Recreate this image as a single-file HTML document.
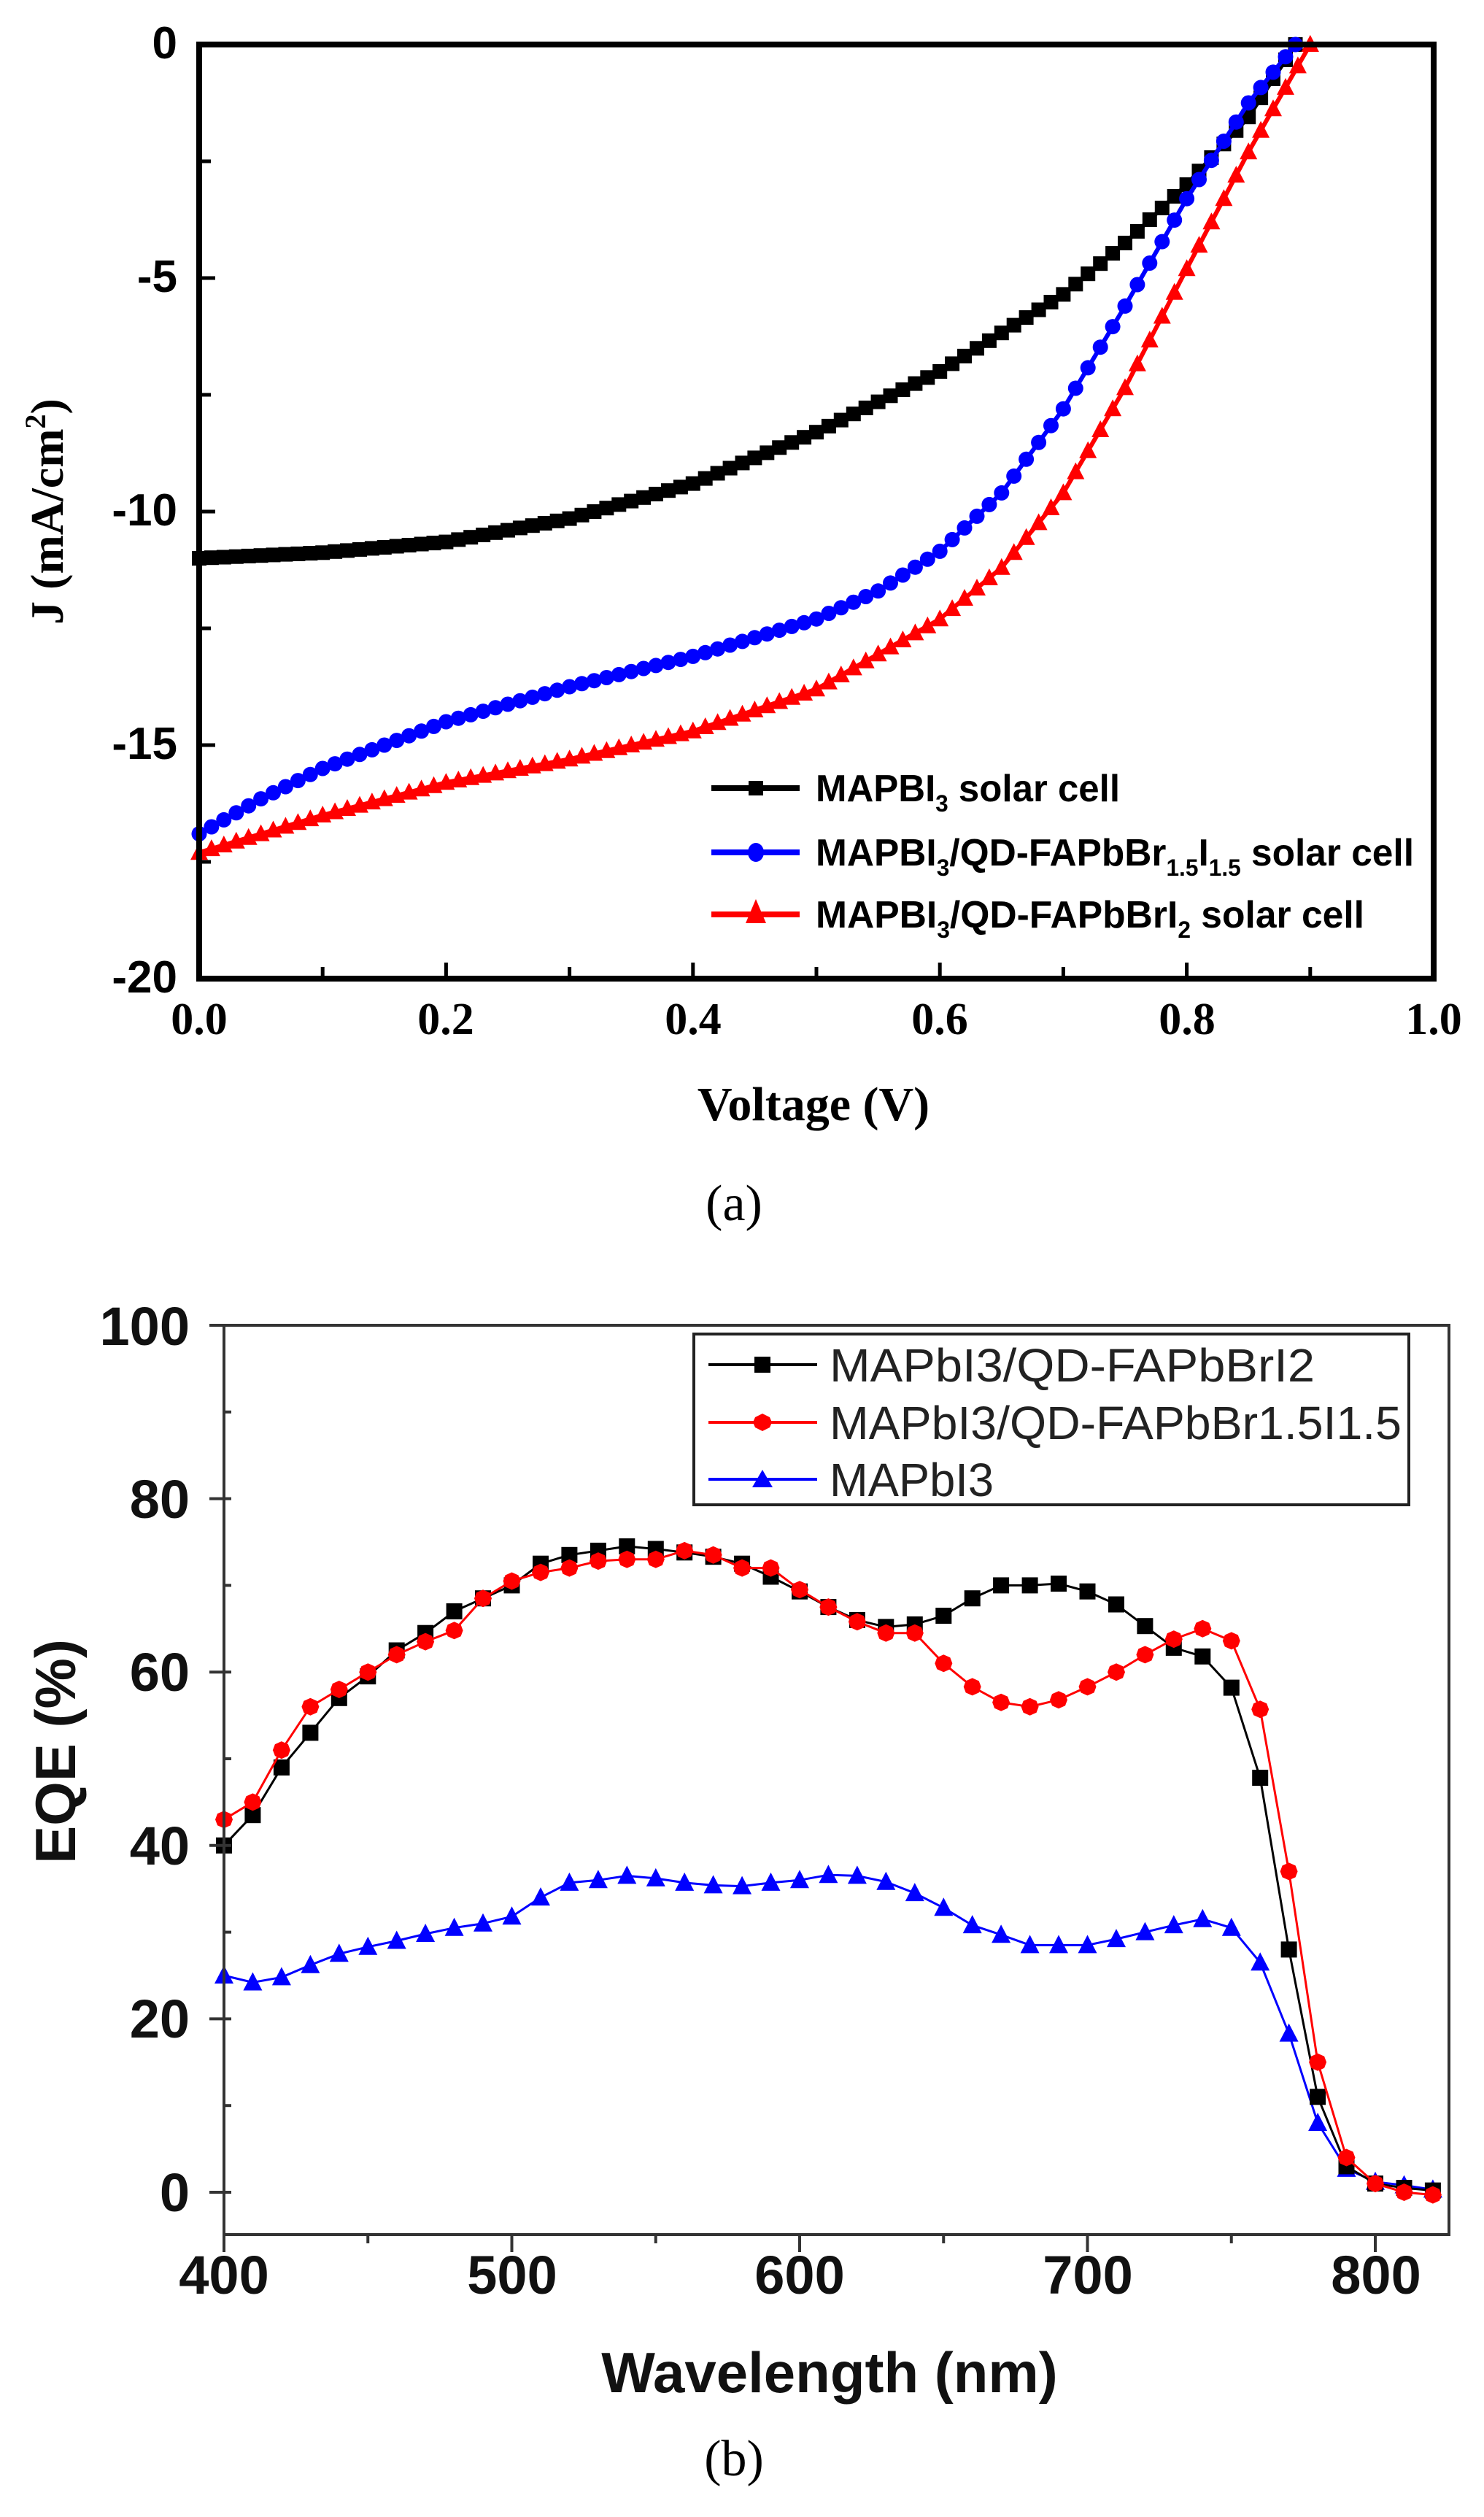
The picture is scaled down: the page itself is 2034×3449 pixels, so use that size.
<!DOCTYPE html>
<html><head><meta charset="utf-8"><style>
html,body{margin:0;padding:0;background:#fff}
svg{display:block}
</style></head><body>
<svg id="s" width="2034" height="3449" viewBox="0 0 2034 3449" xmlns="http://www.w3.org/2000/svg">
<defs>
<marker id="mSq" markerUnits="userSpaceOnUse" markerWidth="24" markerHeight="24" refX="12" refY="12"><rect x="2" y="2" width="20" height="20" fill="#000"/></marker>
<marker id="mCi" markerUnits="userSpaceOnUse" markerWidth="24" markerHeight="24" refX="12" refY="12"><circle cx="12" cy="12" r="10.5" fill="#0000ff"/></marker>
<marker id="mTr" markerUnits="userSpaceOnUse" markerWidth="26" markerHeight="26" refX="13" refY="14"><polygon points="13,1 25,24 1,24" fill="#ff0000"/></marker>
<marker id="bSq" markerUnits="userSpaceOnUse" markerWidth="26" markerHeight="26" refX="13" refY="13"><rect x="2" y="2" width="22" height="22" fill="#000"/></marker>
<marker id="bCi" markerUnits="userSpaceOnUse" markerWidth="26" markerHeight="26" refX="13" refY="13"><polygon points="13,1 22,5 25,13 22,21 13,25 4,21 1,13 4,5" fill="#ff0000"/></marker>
<marker id="bTr" markerUnits="userSpaceOnUse" markerWidth="30" markerHeight="30" refX="15" refY="16"><polygon points="15,2 28,27 2,27" fill="#0000ff"/></marker>
</defs>
<rect width="2034" height="3449" fill="#fff"/>

<!-- ===== Plot (a) ===== -->
<g id="ga"></g>
<rect x="273" y="61" width="1692" height="1280" fill="none" stroke="#000" stroke-width="8"/>
<g id="ta" stroke="#000" stroke-width="5"></g>
<g font-family="'Liberation Sans',Arial,sans-serif" font-weight="bold" font-size="62" text-anchor="end" fill="#000">
<text x="243" y="80">0</text>
<text x="243" y="400">-5</text>
<text x="243" y="720">-10</text>
<text x="243" y="1040">-15</text>
<text x="243" y="1360">-20</text>
</g>
<g font-family="'Liberation Serif','Times New Roman',serif" font-weight="bold" font-size="62" text-anchor="middle" fill="#000">
<text x="273" y="1417">0.0</text>
<text x="611" y="1417">0.2</text>
<text x="950" y="1417">0.4</text>
<text x="1288" y="1417">0.6</text>
<text x="1627" y="1417">0.8</text>
<text x="1965" y="1417">1.0</text>
<text x="1115" y="1535" font-size="66">Voltage (V)</text>
<text transform="translate(86,701) rotate(-90)" font-size="64">J (mA/cm<tspan dy="-24" font-size="40">2</tspan><tspan dy="24">)</tspan></text>
</g>
<!-- legend a -->
<g stroke-width="8" fill="none">
<line x1="975" y1="1080" x2="1096" y2="1080" stroke="#000"/>
<line x1="975" y1="1168" x2="1096" y2="1168" stroke="#0000ff"/>
<line x1="975" y1="1253" x2="1096" y2="1253" stroke="#ff0000"/>
</g>
<rect x="1026" y="1070" width="20" height="20" fill="#000"/>
<ellipse cx="1036" cy="1168" rx="11" ry="13" fill="#0000ff"/>
<polygon points="1036,1232 1050,1265 1022,1265" fill="#ff0000"/>
<g font-family="'Liberation Sans',Arial,sans-serif" font-weight="bold" font-size="52" fill="#000">
<text x="1118" y="1098" textLength="417" lengthAdjust="spacingAndGlyphs">MAPBI<tspan font-size="32" dy="14">3</tspan><tspan dy="-14"> solar cell</tspan></text>
<text x="1118" y="1186" textLength="820" lengthAdjust="spacingAndGlyphs">MAPBI<tspan font-size="32" dy="14">3</tspan><tspan dy="-14">/QD-FAPbBr</tspan><tspan font-size="32" dy="14">1.5</tspan><tspan dy="-14">I</tspan><tspan font-size="32" dy="14">1.5</tspan><tspan dy="-14"> solar cell</tspan></text>
<text x="1118" y="1271" textLength="752" lengthAdjust="spacingAndGlyphs">MAPBI<tspan font-size="32" dy="14">3</tspan><tspan dy="-14">/QD-FAPbBrI</tspan><tspan font-size="32" dy="14">2</tspan><tspan dy="-14"> solar cell</tspan></text>
</g>
<text x="1006" y="1672" font-family="'Liberation Serif','Times New Roman',serif" font-size="70" text-anchor="middle" fill="#000">(a)</text>

<!-- ===== Plot (b) ===== -->
<g id="gb"></g>
<rect x="307" y="1816" width="1679" height="1246" fill="none" stroke="#333" stroke-width="4"/>
<g id="tb" stroke="#333" stroke-width="4"></g>
<g font-family="'Liberation Sans',Arial,sans-serif" font-weight="bold" font-size="74" text-anchor="end" fill="#111">
<text x="260" y="3030">0</text>
<text x="260" y="2792">20</text>
<text x="260" y="2555">40</text>
<text x="260" y="2317">60</text>
<text x="260" y="2080">80</text>
<text x="260" y="1843">100</text>
</g>
<g font-family="'Liberation Sans',Arial,sans-serif" font-weight="bold" font-size="74" text-anchor="middle" fill="#111">
<text x="307" y="3143">400</text>
<text x="702" y="3143">500</text>
<text x="1096" y="3143">600</text>
<text x="1491" y="3143">700</text>
<text x="1886" y="3143">800</text>
<text x="1137" y="3278" font-size="78">Wavelength (nm)</text>
<text transform="translate(103,2400) rotate(-90)" font-size="78">EQE (%)</text>
</g>
<rect x="951" y="1828" width="980" height="234" fill="none" stroke="#222" stroke-width="4"/>
<g stroke-width="4">
<line x1="971" y1="1870" x2="1120" y2="1870" stroke="#000"/>
<line x1="971" y1="1949" x2="1120" y2="1949" stroke="#ff0000"/>
<line x1="971" y1="2027" x2="1120" y2="2027" stroke="#0000ff"/>
</g>
<rect x="1034" y="1859" width="22" height="22" fill="#000"/>
<polygon points="1045,1937 1055,1942 1058,1949 1055,1956 1045,1961 1035,1956 1032,1949 1035,1942" fill="#ff0000"/>
<polygon points="1045,2014 1059,2038 1031,2038" fill="#0000ff"/>
<g font-family="'Liberation Sans',Arial,sans-serif" font-size="64" fill="#222">
<text x="1137" y="1893" textLength="665" lengthAdjust="spacingAndGlyphs">MAPbI3/QD-FAPbBrI2</text>
<text x="1137" y="1972" textLength="784" lengthAdjust="spacingAndGlyphs">MAPbI3/QD-FAPbBr1.5I1.5</text>
<text x="1137" y="2050" textLength="225" lengthAdjust="spacingAndGlyphs">MAPbI3</text>
</g>
<text x="1006" y="3392" font-family="'Liberation Serif','Times New Roman',serif" font-size="70" text-anchor="middle" fill="#000">(b)</text>
</svg>
<script>
(function(){
var NS="http://www.w3.org/2000/svg";
function el(p,t,a){var e=document.createElementNS(NS,t);for(var k in a)e.setAttribute(k,a[k]);p.appendChild(e);return e;}
function interp(pts,x){for(var i=0;i<pts.length-1;i++){if(x>=pts[i][0]&&x<=pts[i+1][0]){var t=(x-pts[i][0])/(pts[i+1][0]-pts[i][0]);return pts[i][1]+t*(pts[i+1][1]-pts[i][1]);}}return pts[pts.length-1][1];}
var ga=document.getElementById('ga');
function ax(v){return 273+v*1692;} function ay(j){return 61-j*64;}
var black=[[0,-11.0],[0.1,-10.88],[0.2,-10.65],[0.3,-10.15],[0.4,-9.4],[0.5,-8.3],[0.6,-7.0],[0.7,-5.35],[0.75,-4.25],[0.8,-3.0],[0.85,-1.55],[0.888,0]];
var blue=[[0,-16.9],[0.05,-16.15],[0.1,-15.5],[0.2,-14.5],[0.3,-13.75],[0.4,-13.1],[0.5,-12.3],[0.55,-11.7],[0.6,-10.85],[0.65,-9.6],[0.7,-7.8],[0.75,-5.6],[0.8,-3.3],[0.85,-1.25],[0.888,0]];
var red=[[0,-17.3],[0.1,-16.5],[0.2,-15.8],[0.3,-15.3],[0.4,-14.7],[0.5,-13.8],[0.6,-12.3],[0.65,-11.2],[0.7,-9.6],[0.75,-7.35],[0.8,-4.8],[0.85,-2.3],[0.9,0]];
function curveA(d,vmax,col,mk){var s=[];for(var v=0;v<=vmax+1e-9;v+=0.01){s.push(ax(v).toFixed(1)+','+ay(interp(d,v)).toFixed(1));}
s.push(ax(vmax).toFixed(1)+','+ay(0).toFixed(1));
el(ga,'polyline',{points:s.join(' '),fill:'none',stroke:col,'stroke-width':6,'marker-start':'url(#'+mk+')','marker-mid':'url(#'+mk+')','marker-end':'url(#'+mk+')'});}
curveA(black,0.888,'#000','mSq');curveA(blue,0.888,'#0000ff','mCi');curveA(red,0.9,'#ff0000','mTr');
var ta=document.getElementById('ta');
for(var i=1;i<10;i++){var x=ax(i/10);el(ta,'line',{x1:x,y1:1341,x2:x,y2:1341-(i%2==0?22:16)});}
for(var j=1;j<8;j++){var y=ay(-2.5*j);el(ta,'line',{x1:273,y1:y,x2:273+(j%2==0?22:16),y2:y});}
var gb=document.getElementById('gb');
function bx(w){return 307+(w-400)*3.945;} function by(v){return 3004-v*11.88;}
var K=[40,43.5,49,53,57,59.5,62.5,64.5,67,68.5,70,72.5,73.5,74,74.5,74.2,73.8,73.3,72.5,71,69.3,67.5,66,65.2,65.5,66.5,68.5,70,70,70.2,69.3,67.8,65.3,62.8,61.8,58.2,47.8,28,11,3,1,0.5,0.2];
var R=[43,45,51,56,58,60,62,63.5,64.8,68.5,70.5,71.5,72,72.8,73,73,74,73.5,72,72,69.5,67.5,65.8,64.5,64.5,61,58.3,56.5,56,56.8,58.3,60,62,63.8,65,63.6,55.7,37,15,4,1,0,-0.3];
var B=[25,24.2,24.8,26.2,27.5,28.3,29,29.8,30.5,31,31.8,34,35.7,36,36.5,36.2,35.7,35.4,35.3,35.7,36,36.6,36.5,35.8,34.5,32.8,30.8,29.7,28.5,28.5,28.5,29.2,30,30.8,31.5,30.5,26.5,18.3,8,2.7,1.2,0.8,0.3];
function curveB(d,col,mk){var s=[];for(var i=0;i<d.length;i++)s.push(bx(400+10*i).toFixed(1)+','+by(d[i]).toFixed(1));
el(gb,'polyline',{points:s.join(' '),fill:'none',stroke:col,'stroke-width':3,'marker-start':'url(#'+mk+')','marker-mid':'url(#'+mk+')','marker-end':'url(#'+mk+')'});}
curveB(B,'#0000ff','bTr');curveB(K,'#000','bSq');curveB(R,'#ff0000','bCi');
var tb=document.getElementById('tb');
for(var w=400;w<=820;w+=50){var x=bx(w);el(tb,'line',{x1:x,y1:3062,x2:x,y2:3062+(w%100==0?24:12)});}
for(var v=0;v<=100;v+=10){var y=by(v);if(v%20==0)el(tb,'line',{x1:307,y1:y,x2:287,y2:y});el(tb,'line',{x1:307,y1:y,x2:317,y2:y});}
})();
</script>
</body></html>
